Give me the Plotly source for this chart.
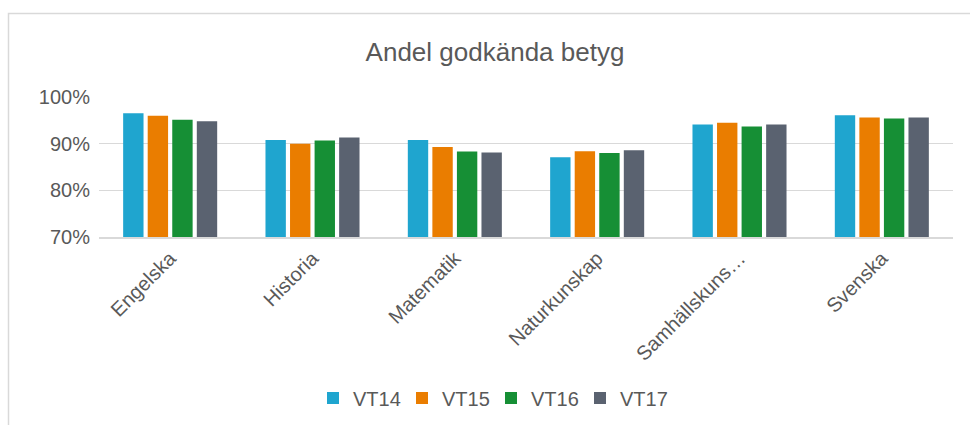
import plotly.graph_objects as go

categories = ["Engelska", "Historia", "Matematik", "Naturkunskap", "Samhällskuns…", "Svenska"]
vt14 = [0.965, 0.908, 0.908, 0.871, 0.941, 0.961]
vt15 = [0.960, 0.900, 0.893, 0.884, 0.945, 0.956]
vt16 = [0.951, 0.907, 0.883, 0.880, 0.937, 0.954]
vt17 = [0.948, 0.913, 0.881, 0.886, 0.941, 0.956]
series_names = ["VT14", "VT15", "VT16", "VT17"]
colors = ["#1FA5CF", "#EA7D00", "#168F35", "#5A6270"]

fig = go.Figure()
for name, vals, col in zip(series_names, [vt14, vt15, vt16, vt17], colors):
    fig.add_trace(go.Bar(x=categories, y=vals, name=name, marker=dict(color=col, line=dict(width=0))))

fig.update_layout(
    width=970, height=425,
    margin=dict(l=99, r=17, t=97, b=188),
    paper_bgcolor="white", plot_bgcolor="white",
    font=dict(family="Liberation Sans, Arial, sans-serif", color="#595959", size=20),
    title=dict(text="Andel godkända betyg", xref="container", x=495 / 970, xanchor="center",
               y=1 - 52 / 425, yanchor="middle",
               font=dict(size=26, color="#595959")),
    barmode="group", bargap=0.31, bargroupgap=0.17,
    legend=dict(orientation="h", xref="container", x=491 / 970, xanchor="center",
                y=1 - 398 / 425, yref="container", yanchor="middle",
                font=dict(size=20, color="#595959"), itemwidth=30, tracegroupgap=0,
                entrywidth=44, entrywidthmode="pixels"),
    showlegend=True,
    shapes=[dict(type="rect", xref="paper", yref="paper",
                 x0=(8.5 - 99) / 854, x1=1.1, y0=-2, y1=(237 - 13.5) / 140,
                 line=dict(color="#D9D9D9", width=1.5), fillcolor="rgba(0,0,0,0)", layer="below")],
)
fig.update_yaxes(range=[0.7, 1.0], tickformat=".0%", dtick=0.1, showgrid=True,
                 gridcolor="#D9D9D9", gridwidth=1.2, zeroline=False, showline=False,
                 ticks="", tickfont=dict(size=20, color="#595959"), ticklabelstandoff=8)
fig.update_xaxes(tickangle=-45, showline=True, linecolor="#D9D9D9", linewidth=1.5,
                 ticks="", tickfont=dict(size=20, color="#595959"))

fig.write_html("out.html", config={"displayModeBar": False},
               post_script="document.body.style.margin='0px';")
